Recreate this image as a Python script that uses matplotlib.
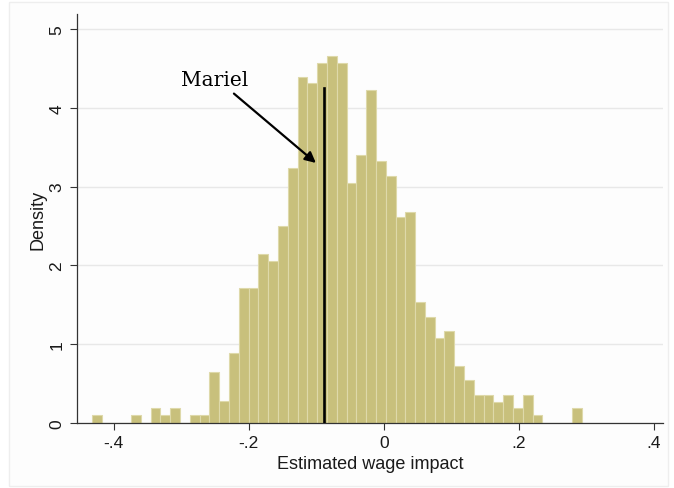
import numpy as np
import matplotlib.pyplot as plt
from matplotlib.patches import Rectangle

# --- данные ---
BIN_START = -0.4326
BIN_END = 0.2934
N_BINS = 50

density = [0.10, 0, 0, 0, 0.10, 0, 0.19, 0.10, 0.19, 0,
           0.10, 0.10, 0.65, 0.28, 0.89, 1.71, 1.71, 2.15, 2.06, 2.50,
           3.23, 4.39, 4.31, 4.57, 4.66, 4.57, 3.05, 3.40, 4.22, 3.32,
           3.14, 2.61, 2.68, 1.53, 1.34, 1.08, 1.17, 0.72, 0.54, 0.36,
           0.36, 0.27, 0.36, 0.19, 0.36, 0.10, 0, 0, 0, 0.19]

mariel_x = -0.088
mariel_top = 4.25
label_xy = (-0.251, 4.355)
arrow_from = (-0.222, 4.18)
arrow_to = (-0.1005, 3.30)

xticks = [-0.4, -0.2, 0, 0.2, 0.4]
xtick_labels = ['-.4', '-.2', '0', '.2', '.4']
yticks = [0, 1, 2, 3, 4, 5]

BAR_COLOR = '#c8c07c'
EDGE_COLOR = '#ded9aa'
TEXT_COLOR = '#1a1a1a'

fig = plt.figure(figsize=(6.74, 4.89), dpi=100)
plt.rcParams['font.family'] = ['Liberation Sans', 'DejaVu Sans']

# светлая рамка вокруг графика (как в Stata)
fig.patches.append(Rectangle((9 / 674, 2 / 489), 659 / 674, 484 / 489,
                             transform=fig.transFigure, facecolor='#fdfdfd',
                             edgecolor='#eeeeee', lw=1, zorder=-10))

ax = fig.add_axes([77 / 674, 1 - 424 / 489, 586 / 674, 409 / 489])
ax.set_facecolor('none')

edges = np.linspace(BIN_START, BIN_END, N_BINS + 1)
ax.bar(edges[:-1], density, width=np.diff(edges), align='edge',
       color=BAR_COLOR, edgecolor=EDGE_COLOR, linewidth=0.8, zorder=2)

ax.plot([mariel_x, mariel_x], [0, mariel_top], color='black', lw=1.9, zorder=3)
ax.annotate('', xy=arrow_to, xytext=arrow_from,
            arrowprops=dict(arrowstyle='-|>', color='black', lw=1.6,
                            mutation_scale=16, shrinkA=0, shrinkB=0), zorder=4)
ax.text(label_xy[0], label_xy[1], 'Mariel', ha='center', va='center',
        fontsize=14.5, family='DejaVu Serif', zorder=4)

ax.set_xlim(-0.4546, 0.414)
ax.set_ylim(0, 5.19)
ax.set_xticks(xticks)
ax.set_xticklabels(xtick_labels)
ax.set_yticks(yticks)
ax.set_yticklabels([str(t) for t in yticks], rotation=90, va='center')
ax.tick_params(labelsize=12.5, length=5, width=0.8, color='#333333',
               labelcolor=TEXT_COLOR, pad=4)
ax.grid(axis='y', color='#e8e8e8', lw=1)
ax.set_axisbelow(True)
for s in ['top', 'right']:
    ax.spines[s].set_visible(False)
for s in ['left', 'bottom']:
    ax.spines[s].set_color('#333333')
    ax.spines[s].set_linewidth(0.9)

ax.set_xlabel('Estimated wage impact', fontsize=13, labelpad=3, color=TEXT_COLOR)
ax.set_ylabel('Density', fontsize=13, labelpad=2, color=TEXT_COLOR)

fig.savefig('out.png', dpi=100)
